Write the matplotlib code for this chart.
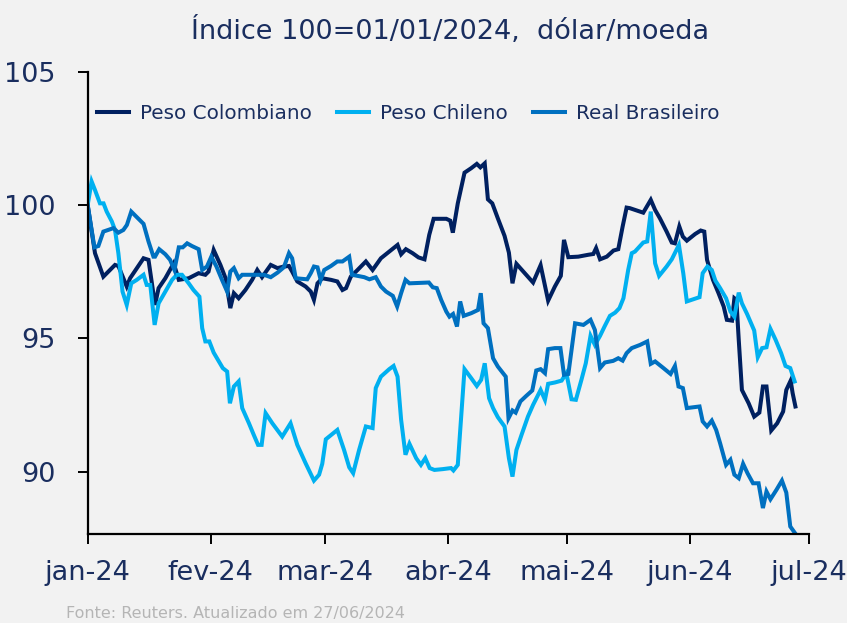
import matplotlib
matplotlib.use("Agg")
import matplotlib.pyplot as plt
import pandas as pd

# dias desde 01/01/2024 e índice (100 = 01/01/2024)
cop_days = [0, 1.85, 3.96, 6.9, 7.75, 9.86, 10.7, 14.1, 15.35, 17.0, 17.9, 19.6, 21.7, 23.0,
            25.5, 28.0, 29.7, 30.5, 31.8, 33.5, 34.8, 36.0, 36.9, 38.1, 39.8, 41.5, 42.8, 44.0,
            46.2, 47.9, 49.5, 50.8, 51.6, 52.9, 55.0, 56.3, 57.1, 58.0, 59.2, 61.4, 63.0, 64.3,
            65.2, 66.4, 68.1, 70.2, 71.9, 74.0, 76.1, 78.2, 79.1, 80.3, 82.0, 83.5, 85.0, 86.2,
            87.3, 90.5, 91.5, 92.15, 93.4, 95.1, 96.8, 98.2, 99.1, 100.2, 101.0, 102.1, 103.5,
            105.2, 106.3, 107.2, 108.2, 110.3, 112.4, 114.3, 116.2, 117.9, 119.4, 120.2, 121.3,
            123.8, 126.3, 127.6, 128.3, 129.3, 131.0, 132.7, 133.9, 135.0, 136.0, 136.8, 140.2,
            142.1, 143.2, 144.4, 146.1, 147.4, 148.2, 149.3, 150.2, 151.2, 153.3, 154.7, 155.6,
            156.3, 157.8, 159.2, 160.5, 161.3, 162.6, 163.2, 163.7, 164.3, 165.1, 166.8, 168.2,
            169.5, 170.4, 171.3, 172.5, 174.0, 175.5, 176.3, 177.4, 177.9, 178.6]
cop_vals = [100.0, 98.19, 97.31, 97.75, 97.71, 96.94, 97.25, 98.0, 97.94, 96.25, 96.88, 97.25,
            97.81, 97.19, 97.25, 97.44, 97.38, 97.5, 98.31, 97.75, 97.25, 96.13, 96.69, 96.5,
            96.81, 97.19, 97.56, 97.29, 97.75, 97.63, 97.69, 97.71, 97.5, 97.13, 96.94, 96.75,
            96.44, 97.06, 97.25, 97.19, 97.13, 96.81, 96.88, 97.31, 97.56, 97.88, 97.56, 98.0,
            98.25, 98.5, 98.15, 98.34, 98.19, 98.03, 97.96, 98.88, 99.48, 99.48, 99.41, 98.96,
            100.06, 101.21, 101.38, 101.54, 101.41, 101.56, 100.21, 100.06, 99.5, 98.84, 98.21,
            97.06, 97.79, 97.44, 97.09, 97.74, 96.41, 96.94, 97.34, 98.69, 98.04, 98.06, 98.13,
            98.16, 98.38, 97.96, 98.06, 98.29, 98.34, 99.19, 99.9, 99.88, 99.71, 100.19, 99.81,
            99.5, 99.0, 98.59, 98.56, 99.19, 98.81, 98.66, 98.91, 99.04, 99.0, 97.94, 97.19,
            96.69, 96.19, 95.69, 95.66, 96.5, 96.44, 94.94, 93.06, 92.56, 92.06, 92.21, 93.19,
            93.19, 91.54, 91.81, 92.25, 93.06, 93.41, 92.94, 92.44]

clp_days = [0, 1.0, 1.85, 3.1, 4.0, 4.8, 6.1, 6.9, 7.75, 8.8, 9.86, 11.0, 12.4, 14.1, 14.9, 15.8,
            16.9, 17.9, 19.6, 21.3, 22.5, 23.8, 25.5, 26.7, 28.2, 28.9, 29.7, 30.7, 31.8, 33.1,
            34.1, 35.2, 35.9, 36.9, 38.1, 39.0, 40.7, 41.9, 43.0, 43.9, 44.9, 46.6, 49.1, 51.2,
            52.9, 55.0, 57.1, 58.4, 59.2, 60.1, 63.0, 64.7, 66.0, 67.0, 68.5, 70.2, 71.9, 72.7,
            74.0, 76.1, 77.2, 78.2, 79.1, 80.2, 81.2, 82.9, 84.1, 85.2, 86.3, 87.5, 89.6, 91.7,
            92.3, 93.4, 95.1, 96.8, 98.2, 99.3, 100.2, 101.3, 102.3, 103.5, 105.2, 106.3, 107.2,
            108.2, 109.5, 111.1, 112.4, 114.3, 115.4, 116.2, 117.9, 119.6, 120.8, 122.1, 123.2,
            124.6, 125.7, 126.9, 128.0, 129.3, 130.5, 131.8, 133.1, 134.2, 135.2, 136.4, 137.3,
            138.1, 140.2, 141.2, 142.1, 143.2, 144.2, 146.1, 147.4, 149.2, 150.3, 151.2, 154.4,
            155.2, 156.4, 157.5, 158.4, 159.6, 161.1, 162.2, 163.2, 164.3, 165.1, 166.4, 168.2,
            169.1, 170.2, 171.3, 172.3, 173.6, 175.0, 176.1, 177.3, 178.4]
clp_vals = [100.0, 100.88, 100.56, 100.06, 100.06, 99.75, 99.38, 99.06, 98.19, 96.75, 96.25,
            97.06, 97.19, 97.38, 97.0, 97.0, 95.5, 96.31, 96.75, 97.19, 97.38, 97.38, 97.06,
            96.81, 96.56, 95.38, 94.88, 94.88, 94.46, 94.13, 93.88, 93.75, 92.56, 93.19, 93.38,
            92.38, 91.81, 91.38, 91.0, 91.0, 92.19, 91.81, 91.31, 91.81, 91.0, 90.31, 89.66,
            89.88, 90.29, 91.21, 91.56, 90.81, 90.16, 89.94, 90.81, 91.69, 91.63, 93.13, 93.56,
            93.84, 93.96, 93.56, 91.94, 90.63, 91.04, 90.5, 90.25, 90.5, 90.13, 90.06, 90.09,
            90.13, 90.04, 90.25, 93.84, 93.5, 93.21, 93.44, 94.06, 92.75, 92.38, 92.04, 91.69,
            90.5, 89.81, 90.81, 91.38, 92.06, 92.5, 93.06, 92.69, 93.29, 93.34, 93.41, 93.69,
            92.71, 92.69, 93.44, 94.06, 95.09, 94.75, 95.09, 95.46, 95.84, 95.96, 96.13, 96.5,
            97.56, 98.19, 98.25, 98.59, 98.63, 99.75, 97.81, 97.34, 97.69, 97.96, 98.5, 97.44,
            96.38, 96.54, 97.44, 97.69, 97.56, 97.16, 96.88, 96.5, 96.0, 95.81, 96.71, 96.31,
            95.91, 95.29, 94.29, 94.63, 94.66, 95.35, 94.94, 94.44, 93.96, 93.88, 93.38]

brl_days = [0, 1.7, 2.7, 3.96, 6.5, 7.75, 9.0, 9.9, 11.0, 12.4, 14.1, 15.35, 16.6, 17.0, 18.05,
            19.6, 20.8, 21.9, 23.0, 24.0, 25.1, 26.3, 28.0, 28.9, 30.1, 31.2, 32.5, 33.9, 35.2,
            36.0, 36.9, 38.1, 39.0, 41.5, 44.5, 46.2, 47.9, 49.5, 50.8, 51.6, 52.5, 55.4, 56.3,
            57.1, 58.0, 58.8, 59.7, 61.4, 63.0, 64.3, 66.0, 66.7, 69.8, 71.1, 72.7, 74.0, 75.3,
            77.0, 78.1, 79.1, 80.2, 81.2, 86.1, 87.1, 88.1, 89.2, 90.5, 91.3, 92.2, 93.2, 94.0,
            94.9, 96.8, 98.5, 99.2, 99.9, 101.0, 102.3, 103.5, 105.5, 106.2, 107.2, 108.0, 109.2,
            110.7, 112.2, 113.2, 114.3, 115.4, 116.2, 117.9, 119.3, 120.2, 121.3, 123.0, 125.1,
            126.9, 128.0, 129.3, 130.5, 132.6, 133.9, 135.0, 136.0, 137.3, 139.4, 141.2, 142.1,
            143.2, 145.3, 147.1, 148.2, 149.1, 150.2, 151.2, 154.4, 155.2, 156.3, 157.5, 158.6,
            159.6, 161.1, 162.2, 163.2, 164.3, 165.4, 166.5, 167.9, 169.3, 170.4, 171.3, 172.3,
            173.8, 175.2, 176.3, 177.3, 178.4]
brl_vals = [100.0, 98.41, 98.46, 99.0, 99.13, 98.96, 99.06, 99.25, 99.75, 99.54, 99.29, 98.63,
            98.06, 98.06, 98.34, 98.15, 97.94, 97.56, 98.41, 98.41, 98.56, 98.46, 98.34, 97.56,
            97.69, 98.06, 97.69, 97.19, 96.75, 97.5, 97.63, 97.25, 97.38, 97.38, 97.38, 97.29,
            97.46, 97.66, 98.19, 98.0, 97.25, 97.21, 97.44, 97.69, 97.66, 97.19, 97.56, 97.71,
            97.88, 97.88, 98.06, 97.38, 97.29, 97.21, 97.29, 96.94, 96.75, 96.59, 96.19, 96.69,
            97.19, 97.06, 97.09, 96.91, 96.88, 96.44, 96.0, 95.81, 95.91, 95.44, 96.38, 95.84,
            95.94, 96.06, 96.69, 95.56, 95.38, 94.25, 93.94, 93.56, 92.0, 92.29, 92.21, 92.63,
            92.84, 93.04, 93.79, 93.84, 93.69, 94.59, 94.63, 94.63, 93.63, 93.66, 95.56, 95.5,
            95.69, 95.31, 93.88, 94.09, 94.15, 94.25, 94.16, 94.44, 94.63, 94.75, 94.88, 94.04,
            94.13, 93.88, 93.66, 93.96, 93.19, 93.13, 92.38, 92.44, 91.88, 91.69, 91.91, 91.56,
            91.06, 90.25, 90.44, 89.88, 89.75, 90.29, 89.94, 89.56, 89.56, 88.63, 89.25, 88.96,
            89.31, 89.66, 89.21, 87.94, 87.71]

series_names = ["Peso Colombiano", "Peso Chileno", "Real Brasileiro"]
series_colors = ["#002060", "#00B0F0", "#0070C0"]
tick_months = ["jan-24", "fev-24", "mar-24", "abr-24", "mai-24", "jun-24", "jul-24"]

text_color = "#1a2e5f"
bg = "#f2f2f2"
plt.rcParams["font.family"] = ["DejaVu Sans"]

start = pd.Timestamp("2024-01-01")


def to_dates(days):
    return [start + pd.Timedelta(days=d) for d in days]


fig = plt.figure(figsize=(8.47, 6.23), dpi=100, facecolor=bg)
ax = fig.add_axes([0.1035, 0.143, 0.8515, 0.742])
ax.set_facecolor(bg)

all_days = [cop_days, clp_days, brl_days]
all_vals = [cop_vals, clp_vals, brl_vals]
for days, vals, name, col in zip(all_days, all_vals, series_names, series_colors):
    ax.plot(to_dates(days), vals, color=col, lw=2.9, label=name, solid_joinstyle="miter")

ax.set_ylim(87.66, 105)
ax.set_yticks([90, 95, 100, 105])
ax.set_xlim(start, pd.Timestamp("2024-07-01"))
ax.set_xticks(pd.date_range("2024-01-01", "2024-07-01", freq="MS"))
ax.set_xticklabels(tick_months)

for s in ["top", "right"]:
    ax.spines[s].set_visible(False)
for s in ["left", "bottom"]:
    ax.spines[s].set_linewidth(1.6)
    ax.spines[s].set_color("black")
ax.tick_params(axis="both", length=7, width=1.4, colors="black", labelcolor=text_color,
               labelsize=19.5, direction="out")
ax.tick_params(axis="x", pad=12)
ax.tick_params(axis="y", pad=16)

fig.text(0.531, 0.95, "Índice 100=01/01/2024,  dólar/moeda", ha="center", va="center",
         fontsize=19.5, color=text_color)

leg = ax.legend(loc="center left", bbox_to_anchor=(0.1145, 0.818), bbox_transform=fig.transFigure,
                ncol=3, frameon=False, fontsize=14.4, handlelength=1.6, handletextpad=0.55,
                columnspacing=1.25, borderaxespad=0, borderpad=0)
for t in leg.get_texts():
    t.set_color(text_color)

fig.text(0.078, 0.016, "Fonte: Reuters. Atualizado em 27/06/2024", ha="left", va="center",
         fontsize=11.5, color="#b5b5b5")

fig.savefig("out.png", dpi=100, facecolor=bg)
